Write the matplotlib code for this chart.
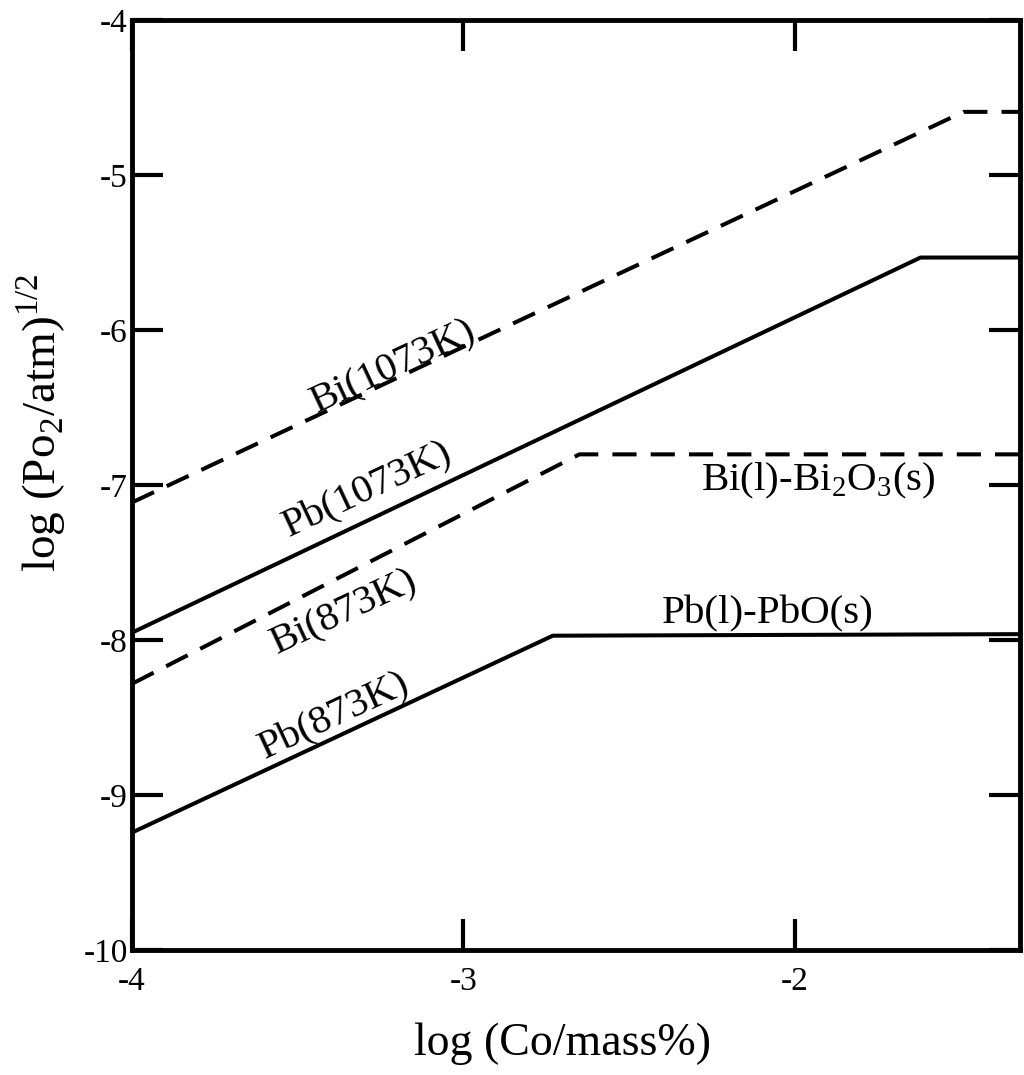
import matplotlib.pyplot as plt

plt.rcParams['font.family'] = ['Liberation Serif', 'DejaVu Serif']
plt.rcParams['mathtext.fontset'] = 'custom'
plt.rcParams['mathtext.rm'] = 'Liberation Serif'

# data: log(Co/mass%) vs log(Po2/atm)^1/2, kink then flat
x_right = -1.32
bi_1073_x = [-4.0, -1.49, x_right]
bi_1073_y = [-7.11, -4.59, -4.59]
pb_1073_x = [-4.0, -1.62, x_right]
pb_1073_y = [-7.95, -5.53, -5.53]
bi_873_x = [-4.0, -2.65, x_right]
bi_873_y = [-8.28, -6.80, -6.80]
pb_873_x = [-4.0, -2.73, x_right]
pb_873_y = [-9.24, -7.97, -7.96]

fig = plt.figure(figsize=(10.24, 10.75), dpi=100)
ax = fig.add_axes([0.129, 0.116, 0.867, 0.865])

lw = 2.9
ax.plot(bi_1073_x, bi_1073_y, color='black', lw=lw, ls=(0, (6, 3.5)))
ax.plot(pb_1073_x, pb_1073_y, color='black', lw=lw)
ax.plot(bi_873_x, bi_873_y, color='black', lw=lw, ls=(0, (6, 3.5)))
ax.plot(pb_873_x, pb_873_y, color='black', lw=lw)

fs = 29.5
ax.text(-3.21, -6.24, 'Bi(1073K)', rotation=25, fontsize=fs, ha='center', va='center')
ax.text(-3.29, -7.03, 'Pb(1073K)', rotation=25, fontsize=fs, ha='center', va='center')
ax.text(-3.36, -7.82, 'Bi(873K)', rotation=25, fontsize=fs, ha='center', va='center')
ax.text(-3.39, -8.49, 'Pb(873K)', rotation=25, fontsize=fs, ha='center', va='center')
ax.text(-1.93, -6.97, r'Bi(l)-Bi$_2$O$_3$(s)', fontsize=fs, ha='center', va='center')
ax.text(-2.08, -7.83, 'Pb(l)-PbO(s)', fontsize=fs, ha='center', va='center')

ax.set_xlim(-4, x_right)
ax.set_ylim(-10, -4)
ax.set_xticks([-4, -3, -2])
ax.set_yticks([-10, -9, -8, -7, -6, -5, -4])
ax.set_xticklabels(['-4', '-3', '-2'])
ax.set_yticklabels(['-10', '-9', '-8', '-7', '-6', '-5', '-4'])
ax.tick_params(direction='in', length=22, width=3, labelsize=24,
               top=True, right=True, pad=3)
ax.tick_params(axis='x', pad=12)
for s in ax.spines.values():
    s.set_linewidth(3.5)

ax.set_xlabel('log (Co/mass%)', fontsize=33)
ax.set_ylabel(r'log (Po$_2$/atm)$^{1/2}$', fontsize=34)
ax.xaxis.set_label_coords(0.485, -0.078)
ax.yaxis.set_label_coords(-0.072, 0.567)

fig.savefig('out.png', dpi=100)
